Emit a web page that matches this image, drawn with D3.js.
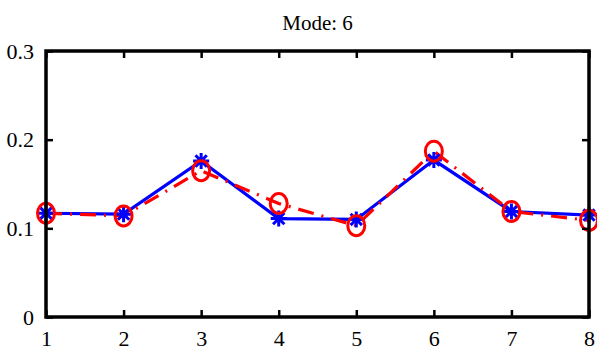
<!DOCTYPE html>
<html>
<head>
<meta charset="utf-8">
<script src="https://cdn.jsdelivr.net/npm/d3@7"></script>
<style>
  html, body { margin: 0; padding: 0; background: #ffffff; font-family: "Liberation Serif", serif; }
  svg { display: block; }
</style>
</head>
<body>
<div id="chart"></div>
<script>
// Mode 6 comparison: two series over positions 1..8
var positions = [1, 2, 3, 4, 5, 6, 7, 8];
var seriesBlue = [0.117, 0.116, 0.176, 0.111, 0.110, 0.177, 0.119, 0.115];
var seriesRed  = [0.117, 0.114, 0.165, 0.128, 0.103, 0.187, 0.119, 0.109];
var yTicks = [0, 0.1, 0.2, 0.3];
var yTickLabels = ['0', '0.1', '0.2', '0.3'];
var titleText = 'Mode: 6';

(function(){
  var W = 597, H = 354;
  var margin = { top: 51, right: 8, bottom: 37, left: 46 };
  var width = W - margin.left - margin.right;
  var height = H - margin.top - margin.bottom;
  var serif = 'Liberation Serif';

  var svg = d3.select('#chart').append('svg')
    .attr('width', W).attr('height', H)
    .attr('font-family', serif);

  var g = svg.append('g').attr('transform', 'translate(' + margin.left + ',' + margin.top + ')');

  var x = d3.scaleLinear().domain([1, 8]).range([0, width]);
  var y = d3.scaleLinear().domain([0, 0.3]).range([height, 0]);

  // title
  svg.append('text')
    .attr('x', margin.left + width / 2)
    .attr('y', 30)
    .attr('text-anchor', 'middle')
    .attr('font-family', serif)
    .attr('font-size', 21)
    .attr('fill', '#000')
    .text(titleText);

  // lines
  var line = d3.line()
    .x(function(d, i){ return x(positions[i]); })
    .y(function(d){ return y(d); });

  g.append('path')
    .datum(seriesBlue)
    .attr('d', line)
    .attr('fill', 'none')
    .attr('stroke', '#0000ff')
    .attr('stroke-width', 3.2);

  g.append('path')
    .datum(seriesRed)
    .attr('d', line)
    .attr('fill', 'none')
    .attr('stroke', '#ff0000')
    .attr('stroke-width', 3.2)
    .attr('stroke-dasharray', '16,8,2,8');

  // asterisk markers
  function asterisk(r){
    var a = r * Math.SQRT1_2;
    return 'M' + (-r) + ',0L' + r + ',0' +
           'M0,' + (-r) + 'L0,' + r +
           'M' + (-a) + ',' + (-a) + 'L' + a + ',' + a +
           'M' + (-a) + ',' + a + 'L' + a + ',' + (-a);
  }
  g.selectAll('.star')
    .data(seriesBlue)
    .enter().append('path')
    .attr('class', 'star')
    .attr('transform', function(d, i){ return 'translate(' + x(positions[i]) + ',' + y(d) + ')'; })
    .attr('d', asterisk(8))
    .attr('fill', 'none')
    .attr('stroke', '#0000ff')
    .attr('stroke-width', 3);

  // circle markers
  g.selectAll('.ring')
    .data(seriesRed)
    .enter().append('ellipse')
    .attr('class', 'ring')
    .attr('cx', function(d, i){ return x(positions[i]); })
    .attr('cy', function(d){ return y(d); })
    .attr('rx', 8.5)
    .attr('ry', 10)
    .attr('fill', 'none')
    .attr('stroke', '#ff0000')
    .attr('stroke-width', 3);

  // axes box with inward ticks
  var axisStroke = '#000';
  function styleAxis(sel){
    sel.attr('font-family', serif).attr('font-size', 22);
    sel.select('.domain').remove();
    sel.selectAll('line').attr('stroke', axisStroke).attr('stroke-width', 2.5);
    sel.selectAll('text').attr('font-family', serif).attr('fill', '#000');
  }

  var xb = g.append('g').attr('transform', 'translate(0,' + height + ')')
    .call(d3.axisBottom(x).tickValues(positions).tickFormat(d3.format('d')).tickSize(-7).tickPadding(13));
  styleAxis(xb);

  var xt = g.append('g')
    .call(d3.axisTop(x).tickValues(positions).tickSize(-7).tickFormat(''));
  styleAxis(xt);

  var yl = g.append('g')
    .call(d3.axisLeft(y).tickValues(yTicks).tickSize(-7).tickPadding(12)
      .tickFormat(function(d, i){ return yTickLabels[i]; }));
  styleAxis(yl);

  var yr = g.append('g').attr('transform', 'translate(' + width + ',0)')
    .call(d3.axisRight(y).tickValues(yTicks).tickSize(-7).tickFormat(''));
  styleAxis(yr);

  g.append('rect')
    .attr('x', 0).attr('y', 0)
    .attr('width', width).attr('height', height)
    .attr('fill', 'none')
    .attr('stroke', axisStroke)
    .attr('stroke-width', 3.5);
})();
</script>
</body>
</html>
